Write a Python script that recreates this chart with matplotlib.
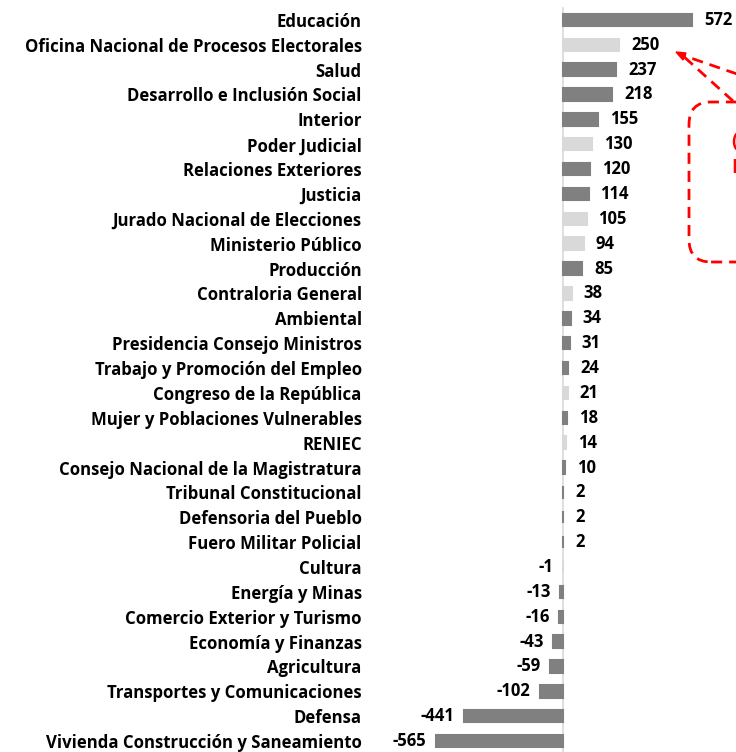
import matplotlib.pyplot as plt
from matplotlib.patches import FancyBboxPatch

plt.rcParams['font.family'] = ['Open Sans', 'DejaVu Sans']

sectores = ['Educación', 'Oficina Nacional de Procesos Electorales', 'Salud',
            'Desarrollo e Inclusión Social', 'Interior', 'Poder Judicial',
            'Relaciones Exteriores', 'Justicia', 'Jurado Nacional de Elecciones',
            'Ministerio Público', 'Producción', 'Contraloria General', 'Ambiental',
            'Presidencia Consejo Ministros', 'Trabajo y Promoción del Empleo',
            'Congreso de la República', 'Mujer y Poblaciones Vulnerables', 'RENIEC',
            'Consejo Nacional de la Magistratura', 'Tribunal Constitucional',
            'Defensoria del Pueblo', 'Fuero Militar Policial', 'Cultura',
            'Energía y Minas', 'Comercio Exterior y Turismo', 'Economía y Finanzas',
            'Agricultura', 'Transportes y Comunicaciones', 'Defensa',
            'Vivienda Construcción y Saneamiento']
valores = [572, 250, 237, 218, 155, 130, 120, 114, 105, 94, 85, 38, 34, 31, 24,
           21, 18, 14, 10, 2, 2, 2, -1, -13, -16, -43, -59, -102, -441, -565]
# pliegos autonomos en gris claro
autonomos = ['Oficina Nacional de Procesos Electorales', 'Poder Judicial',
             'Jurado Nacional de Elecciones', 'Ministerio Público',
             'Contraloria General', 'Congreso de la República', 'RENIEC', 'Cultura']

oscuro = '#808080'
claro = '#d9d9d9'
colores = [claro if s in autonomos else oscuro for s in sectores]

W, H = 736, 752
fig = plt.figure(figsize=(W / 100, H / 100), dpi=100)
ax = fig.add_axes([370 / W, 0, 1 - 370 / W, 1])

y = list(range(len(sectores)))
ax.barh(y, valores, height=0.5, color=colores, edgecolor=colores, lw=1.5)
ax.set_xlim(-856, 767)
ax.set_ylim(29.44, -0.80)
ax.set_yticks(y)
ax.set_yticklabels(sectores, fontsize=12.1, fontweight='bold')
ax.tick_params(axis='y', length=0, pad=6)
ax.set_xticks([])
for s in ax.spines.values():
    s.set_visible(False)
ax.axvline(0, ymin=0, ymax=0.99, color='#d9d9d9', lw=1.2, zorder=0)

for yi, v in zip(y, valores):
    if v >= 0:
        ax.text(v + 52, yi, str(v), ha='left', va='center', fontsize=12, fontweight='bold')
    else:
        ax.text(v - 42, yi, str(v), ha='right', va='center', fontsize=12, fontweight='bold')

# recuadro rojo (cortado en el borde)
box = FancyBboxPatch((689 / W, 1 - 262 / H), 120 / W, 160 / H,
                     boxstyle='round,pad=0,rounding_size=0.03',
                     transform=fig.transFigure, fill=False, ec='#ff0000',
                     lw=2, ls=(0, (4, 2.5)), clip_on=False)
fig.patches.append(box)
fig.text(731 / W, 1 - 142 / H, '(', color='#ff0000', fontsize=14,
         fontweight='bold', va='center')
fig.text(731 / W, 1 - 168 / H, 'I', color='#ff0000', fontsize=14,
         fontweight='bold', va='center')

for x0, y0 in [(740, 75), (733, 101)]:
    fig.add_artist(plt.Line2D([x0 / W, 682 / W], [1 - y0 / H, 1 - 55 / H],
                              transform=fig.transFigure, color='#ff0000',
                              lw=2, ls=(0, (4, 2.5))))
fig.add_artist(plt.Polygon([(676 / W, 1 - 52 / H), (686 / W, 1 - 53 / H),
                            (683 / W, 1 - 60 / H)], closed=True,
                           transform=fig.transFigure, color='#ff0000'))

fig.savefig('out.png', dpi=100)
